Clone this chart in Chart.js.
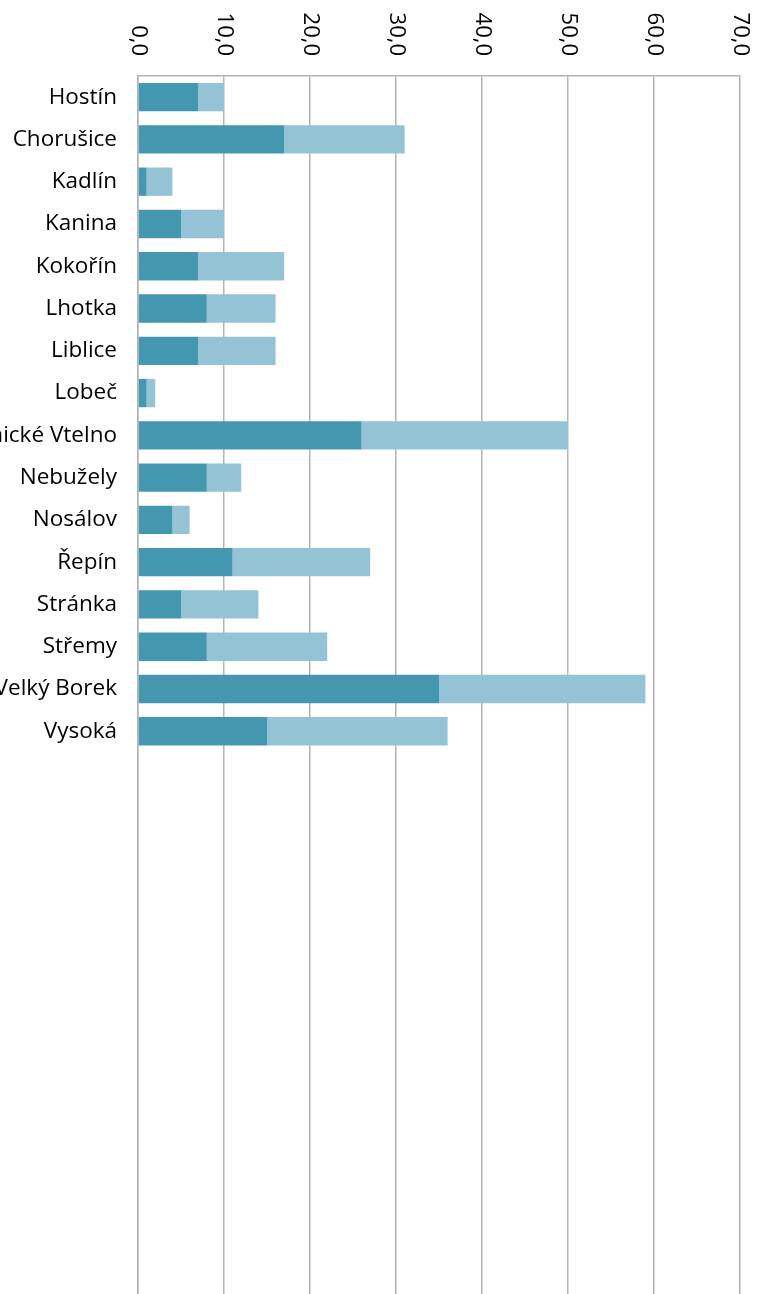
<!DOCTYPE html>
<html>
<head>
<meta charset="utf-8">
<script src="https://cdn.jsdelivr.net/npm/chart.js@4.4.0/dist/chart.umd.min.js"></script>
<style>
  body { margin: 0; background: #fff; overflow: hidden; }
  canvas { display: block; }
</style>
</head>
<body>
<canvas id="obce" width="765" height="1302"></canvas>
<script>
// obce (category axis) - the chart keeps empty rows below the last one
const obce = ['Hostín', 'Chorušice', 'Kadlín', 'Kanina', 'Kokořín', 'Lhotka', 'Liblice', 'Lobeč',
  'Mělnické Vtelno', 'Nebužely', 'Nosálov', 'Řepín', 'Stránka', 'Střemy', 'Velký Borek', 'Vysoká',
  '', '', '', '', '', '', '', '', '', '', '', '', ''];
const serie1 = [7, 17, 1, 5, 7, 8, 7, 1, 26, 8, 4, 11, 5, 8, 35, 15];
const serie2 = [3, 14, 3, 5, 10, 8, 9, 1, 24, 4, 2, 16, 9, 14, 24, 21];
const tickValues = [0, 10, 20, 30, 40, 50, 60, 70];
const tickLabels = ['0,0', '10,0', '20,0', '30,0', '40,0', '50,0', '60,0', '70,0'];

// rotated axis labels (read top to bottom)
const topLabels = {
  id: 'topLabels',
  afterDraw(chart) {
    const s = chart.scales.x;
    const ctx = chart.ctx;
    ctx.save();
    ctx.font = '22px "Open Sans"';
    ctx.fillStyle = '#000';
    ctx.textAlign = 'right';
    ctx.textBaseline = 'middle';
    tickValues.forEach(function(v, i) {
      ctx.save();
      ctx.translate(s.getPixelForValue(v), 56);
      ctx.rotate(Math.PI / 2);
      ctx.fillText(tickLabels[i], 0, 0);
      ctx.restore();
    });
    ctx.restore();
  }
};

new Chart(document.getElementById('obce'), {
  type: 'bar',
  data: {
    labels: obce,
    datasets: [
      { data: serie1, backgroundColor: 'rgb(67,152,176)', barPercentage: 0.67, categoryPercentage: 1 },
      { data: serie2, backgroundColor: 'rgb(147,195,212)', barPercentage: 0.67, categoryPercentage: 1 }
    ]
  },
  options: {
    indexAxis: 'y',
    responsive: false,
    animation: false,
    layout: { padding: { top: 76, right: 25, bottom: 0, left: 0 } },
    plugins: { legend: { display: false }, tooltip: { enabled: false } },
    scales: {
      x: {
        position: 'top',
        stacked: true,
        min: 0, max: 70,
        ticks: { display: false, stepSize: 10 },
        grid: { color: '#b3b3b3', lineWidth: 1.5, drawTicks: false },
        border: { color: '#b3b3b3', width: 1.5 }
      },
      y: {
        stacked: true,
        afterFit(scale) {
          scale.width = 138;
          scale.paddingTop = 0;
          scale.paddingBottom = 0;
        },
        ticks: { font: { family: 'Open Sans', size: 22.5 }, color: '#000', padding: 21, autoSkip: false },
        grid: { display: false, drawTicks: false },
        border: { color: '#b3b3b3', width: 1.5 }
      }
    }
  },
  plugins: [topLabels]
});
</script>
</body>
</html>
